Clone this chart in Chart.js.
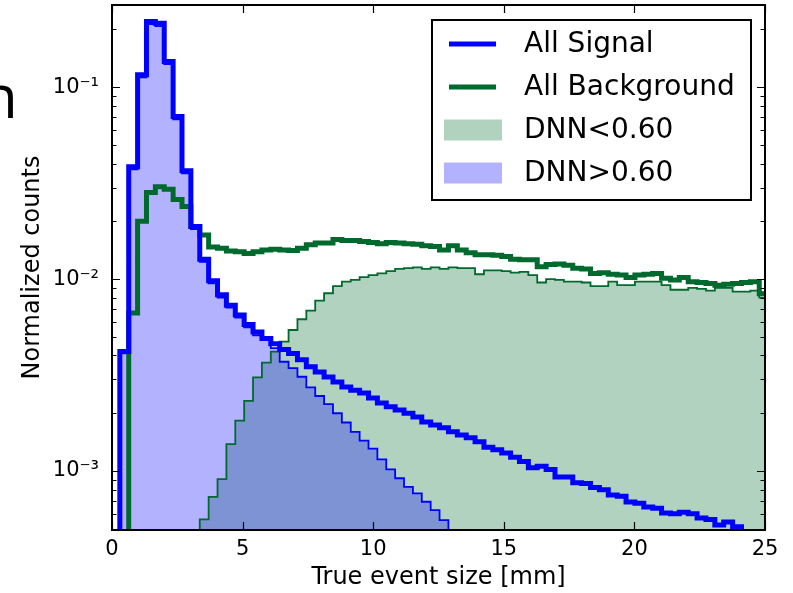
<!DOCTYPE html>
<html>
<head>
<meta charset="utf-8">
<script src="https://cdn.jsdelivr.net/npm/chart.js@4.4.1/dist/chart.umd.min.js"></script>
<style>
  html, body { margin: 0; padding: 0; background: #fff; }
  #wrap { position: relative; width: 793px; height: 593px; overflow: hidden; }
  #sizeChart { position: absolute; left: 0; top: 0; }
  #slideText { position: absolute; left: -19px; top: 54px; font: 60px "Open Sans", sans-serif; line-height: normal; color: #000; }
</style>
</head>
<body>
<div id="wrap">
  <canvas id="sizeChart" width="793" height="593"></canvas>
  <div id="slideText">n</div>
</div>
<script>
// Histogram binning (mm)
const firstEdge = -0.04
const binWidth = 0.34

const xTickValues = [0, 5, 10, 15, 20, 25]
const xTickLabels = ["0", "5", "10", "15", "20", "25"]
const yTickValues = [1e-3, 1e-2, 1e-1]
const yTickLabels = ["10⁻³", "10⁻²", "10⁻¹"]

// Normalized counts per bin (values under 5e-4 fall below the axis)
const signal = [1e-5, 0.0042, 0.0385, 0.116, 0.22, 0.215, 0.136, 0.0703, 0.0367, 0.0188,
  0.0127, 0.0098, 0.0083, 0.0073, 0.0065, 0.0058, 0.0053, 0.0049, 0.0046, 0.0043,
  0.0041, 0.0038, 0.00349, 0.00328, 0.00309, 0.00291, 0.00274, 0.00264, 0.00255, 0.0024,
  0.00226, 0.00216, 0.00208, 0.002, 0.00191, 0.0018, 0.00174, 0.00168, 0.0016, 0.00154,
  0.00149, 0.00142, 0.00133, 0.00129, 0.00124, 0.00118, 0.00112, 0.00104, 0.00106, 0.00102,
  0.00093, 0.00093, 0.00087, 0.00086, 0.00082, 0.0008, 0.00075, 0.00074, 0.00069, 0.00068,
  0.00065, 0.00064, 0.000605, 0.0006, 0.00061, 0.0006, 0.00057, 0.00056, 0.000524, 0.000543,
  0.000512, 0.00046, 0.00044, 0.00042]

const background = [1e-5, 1e-5, 0.00665, 0.020, 0.0283, 0.0303, 0.0294, 0.026, 0.0239, 0.0188,
  0.017, 0.0147, 0.0145, 0.0140, 0.0139, 0.0136, 0.0139, 0.0142, 0.0143, 0.0142,
  0.0141, 0.0145, 0.0151, 0.0154, 0.0154, 0.0161, 0.0159, 0.0159, 0.0157, 0.0155,
  0.0153, 0.0155, 0.0154, 0.0153, 0.0152, 0.0149, 0.0148, 0.0142, 0.0149, 0.0142,
  0.0137, 0.0134, 0.0134, 0.0133, 0.0131, 0.0127, 0.0126, 0.0126, 0.0116, 0.0119,
  0.0120, 0.0118, 0.0114, 0.0113, 0.0107, 0.0108, 0.0106, 0.0105, 0.0102, 0.0105,
  0.0106, 0.0107, 0.0101, 0.0099, 0.0102, 0.0097, 0.0096, 0.0095, 0.0093, 0.0094,
  0.0095, 0.0096, 0.0097, 0.0084]

const dnnLow = [1e-5, 1e-5, 1e-5, 1e-5, 1e-5, 1e-5, 1e-5, 1e-5, 0.0002, 0.00035,
  0.00056, 0.000734, 0.000908, 0.00138, 0.00183, 0.00232, 0.00308, 0.00367, 0.00419, 0.00472,
  0.00543, 0.00618, 0.00686, 0.00773, 0.00844, 0.0092, 0.0097, 0.0099, 0.01023, 0.0105,
  0.0107, 0.0110, 0.0113, 0.0114, 0.0115, 0.0113, 0.0115, 0.0113, 0.0115, 0.0114,
  0.0114, 0.0106, 0.0111, 0.0111, 0.0110, 0.0108, 0.0109, 0.0105, 0.0096, 0.0100,
  0.0099, 0.0097, 0.0097, 0.0096, 0.0092, 0.0092, 0.0097, 0.0093, 0.0093, 0.0097,
  0.0097, 0.0097, 0.0093, 0.0088, 0.0088, 0.0090, 0.0089, 0.0087, 0.0090, 0.0090,
  0.0086, 0.0086, 0.0087, 0.0080]

const dnnHigh = [1e-5, 0.0041, 0.0373, 0.1125, 0.213, 0.208, 0.132, 0.068, 0.0356, 0.0182,
  0.0123, 0.0095, 0.0080, 0.0071, 0.0063, 0.0056, 0.0051, 0.00482, 0.00437, 0.00371,
  0.00344, 0.0031, 0.00273, 0.00246, 0.00223, 0.002, 0.00179, 0.0016, 0.00144, 0.00131,
  0.00115, 0.00102, 0.000917, 0.000828, 0.000765, 0.000692, 0.000626, 0.000555, 0.00046]

const blue = "rgb(0, 0, 255)"
const green = "rgb(0, 105, 45)"
const font = "DejaVu Sans"

const edge = (k) => firstEdge + k * binWidth

// points at the left edge of each bin, plus a closing point at the last right edge
function histPoints(values) {
  const pts = values.map((v, k) => ({ x: edge(k), y: v }))
  pts.push({ x: edge(values.length), y: values[values.length - 1] })
  return pts
}

// inward ticks on all four sides + black frame
const frameAndTicks = {
  id: "frameAndTicks",
  afterDatasetsDraw(chart) {
    const { ctx, chartArea: a, scales } = chart
    ctx.save()
    ctx.strokeStyle = "#000"
    ctx.lineWidth = 1.2
    ctx.beginPath()
    scales.x.ticks.forEach((t) => {
      const px = Math.round(scales.x.getPixelForValue(t.value)) + 0.5
      ctx.moveTo(px, a.bottom)
      ctx.lineTo(px, a.bottom - 8)
      ctx.moveTo(px, a.top)
      ctx.lineTo(px, a.top + 8)
    })
    scales.y.ticks.forEach((t) => {
      const e = Math.floor(Math.log10(t.value) + 1e-9)
      const m = t.value / Math.pow(10, e)
      if (Math.abs(m - Math.round(m)) > 1e-6) return
      const len = Math.round(m) === 1 ? 8 : 4.5
      const py = Math.round(scales.y.getPixelForValue(t.value)) + 0.5
      ctx.moveTo(a.left, py)
      ctx.lineTo(a.left + len, py)
      ctx.moveTo(a.right, py)
      ctx.lineTo(a.right - len, py)
    })
    ctx.stroke()
    ctx.lineWidth = 2
    ctx.strokeRect(a.left, a.top, a.width, a.height)
    ctx.restore()
  },
}

// legend box inside the plot, upper right
const insideLegend = {
  id: "insideLegend",
  afterDraw(chart) {
    const { ctx, chartArea: a } = chart
    const ds = chart.data.datasets
    const items = [
      { label: ds[0].label, line: blue },
      { label: ds[1].label, line: green },
      { label: ds[5].label, patch: ds[5].backgroundColor },
      { label: ds[4].label, patch: ds[4].backgroundColor },
    ]
    const w = 319
    const h = 180
    const left = a.right - 14 - w
    const top = a.top + 15
    ctx.save()
    ctx.fillStyle = "#fff"
    ctx.fillRect(left, top, w, h)
    ctx.strokeStyle = "#000"
    ctx.lineWidth = 2
    ctx.strokeRect(left, top, w, h)
    ctx.font = '28px "' + font + '"'
    ctx.textBaseline = "middle"
    items.forEach((item, i) => {
      const cy = top + 24 + i * 43
      if (item.line) {
        ctx.strokeStyle = item.line
        ctx.lineWidth = 5
        ctx.beginPath()
        ctx.moveTo(left + 17, cy)
        ctx.lineTo(left + 64, cy)
        ctx.stroke()
      } else {
        ctx.fillStyle = item.patch
        ctx.fillRect(left + 12, cy - 10.5, 58, 21)
      }
      ctx.fillStyle = "#000"
      ctx.fillText(item.label, left + 92, cy + 1)
    })
    ctx.restore()
  },
}

const stepLine = (label, values, color, width) => ({
  label,
  data: histPoints(values),
  borderColor: color,
  borderWidth: width,
  stepped: true,
  fill: false,
  clip: 0,
})

const stepFill = (label, values, color) => ({
  label,
  data: histPoints(values),
  borderColor: "rgba(0,0,0,0)",
  borderWidth: 0,
  backgroundColor: color,
  stepped: true,
  fill: "start",
  clip: 0,
})

// keep the plot box exactly where the axes put it
const noScalePadding = (scale) => {
  scale.paddingTop = 0
  scale.paddingBottom = 0
  scale.paddingLeft = 0
  scale.paddingRight = 0
}

new Chart(document.getElementById("sizeChart"), {
  type: "line",
  data: {
    datasets: [
      stepLine("All Signal", signal, blue, 5),
      stepLine("All Background", background, green, 5),
      stepLine("DNN>0.60 edge", dnnHigh, blue, 1.8),
      stepLine("DNN<0.60 edge", dnnLow, green, 1.8),
      stepFill("DNN>0.60", dnnHigh, "rgba(0, 0, 255, 0.3)"),
      stepFill("DNN<0.60", dnnLow, "rgba(0, 105, 45, 0.3)"),
    ],
  },
  options: {
    responsive: false,
    animation: false,
    events: [],
    layout: { padding: { top: 5, right: 28, left: 0, bottom: 0 } },
    elements: { point: { radius: 0 }, line: { tension: 0 } },
    plugins: {
      legend: { display: false },
      tooltip: { enabled: false },
    },
    scales: {
      x: {
        type: "linear",
        min: 0,
        max: 25,
        grid: { display: false, drawTicks: false },
        border: { display: false },
        afterBuildTicks: (scale) => {
          scale.ticks = xTickValues.map((v) => ({ value: v }))
        },
        ticks: {
          padding: 7,
          color: "#000",
          autoSkip: false,
          maxRotation: 0,
          font: { family: font, size: 21 },
          callback: (value) => xTickLabels[xTickValues.indexOf(value)],
        },
        title: {
          display: true,
          text: "True event size [mm]",
          color: "#000",
          font: { family: font, size: 24 },
          padding: { top: 0, bottom: 1 },
        },
        afterFit: (scale) => {
          scale.height = 63
          noScalePadding(scale)
        },
      },
      y: {
        type: "logarithmic",
        min: 4.93e-4,
        max: 0.268,
        grid: { display: false, drawTicks: false },
        border: { display: false },
        ticks: {
          padding: 13,
          color: "#000",
          autoSkip: false,
          font: { family: font, size: 21 },
          callback: (value) => {
            const i = yTickValues.findIndex((v) => Math.abs(v - value) < v * 1e-6)
            return i >= 0 ? yTickLabels[i] : ""
          },
        },
        title: {
          display: true,
          text: "Normalized counts",
          color: "#000",
          font: { family: font, size: 24 },
          padding: { top: 18, bottom: 0 },
        },
        afterFit: (scale) => {
          scale.width = 112
          noScalePadding(scale)
        },
      },
    },
  },
  plugins: [frameAndTicks, insideLegend],
})
</script>
</body>
</html>
